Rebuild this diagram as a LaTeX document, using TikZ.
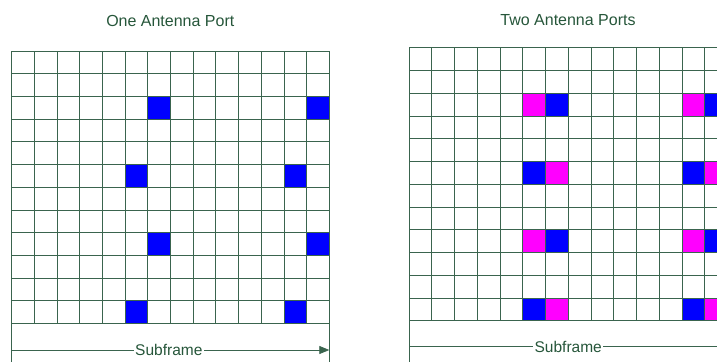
\documentclass[tikz,border=0pt]{standalone}
\usepackage{fontspec}
\setmainfont{Liberation Sans}
\usepackage{xcolor}
\usetikzlibrary{arrows.meta,positioning}
\definecolor{gridgreen}{RGB}{58,100,78}
\definecolor{txtgreen}{RGB}{38,86,58}
\definecolor{rsblue}{RGB}{0,0,255}
\definecolor{rspink}{RGB}{255,0,255}
\tikzset{
  ttl/.style    = {font=\fontsize{16}{18}\selectfont, text=txtgreen, inner sep=1pt},
  lbl/.style    = {font=\fontsize{15.5}{18}\selectfont, text=txtgreen, fill=white, inner sep=1.5pt},
  gridln/.style = {draw=gridgreen, line width=0.8pt},
  wire/.style   = {draw=gridgreen, line width=0.8pt, -{Triangle[length=10pt,width=8pt]}},
  rsA/.style    = {fill=rsblue},
  rsB/.style    = {fill=rspink}
}

\begin{document}
\begin{tikzpicture}[x=1pt,y=-1pt]
\useasboundingbox (0,0) rectangle (717,362);
\clip (0,0) rectangle (717,362);

% --- titles ---
\node[ttl] (ttlA) at (170.3,20.5) {One Antenna Port};
\node[ttl] (ttlB) at (568,20.5) {Two Antenna Ports};

% --- one antenna port: reference cells ---
\foreach \r/\c in {2/6, 2/13, 5/5, 5/12, 8/6, 8/13, 11/5, 11/12} {
  \fill[rsA] (11.5+\c*22.7,51+\r*22.7) rectangle ++(22.7,22.7);
}

% --- one antenna port: grid ---
\foreach \i in {0,...,14} {
  \draw[gridln] (11.5+\i*22.7,51) -- (11.5+\i*22.7,323.4);
}
\foreach \j in {0,...,12} {
  \draw[gridln] (11.5,51+\j*22.7) -- (329.3,51+\j*22.7);
}
\draw[gridln] (11.5,323.4) -- (11.5,362);
\draw[gridln] (329.3,323.4) -- (329.3,362);

% subframe arrow
\coordinate (sfA0) at (11.5,350);
\coordinate (sfA1) at (329.3,350);
\draw[wire] (sfA0) -- (sfA1) node[lbl, pos=0.495] (sfA) {Subframe};

% --- two antenna ports: reference cells ---
\foreach \r/\c in {2/6, 2/13, 5/5, 5/12, 8/6, 8/13, 11/5, 11/12} {
  \fill[rsA] (409+\c*22.75,47.7+\r*22.75) rectangle ++(22.75,22.75);
}
\foreach \r/\c in {2/5, 2/12, 5/6, 5/13, 8/5, 8/12, 11/6, 11/13} {
  \fill[rsB] (409+\c*22.75,47.7+\r*22.75) rectangle ++(22.75,22.75);
}

% --- two antenna ports: grid ---
\foreach \i in {0,...,14} {
  \draw[gridln] (409+\i*22.75,47.7) -- (409+\i*22.75,320.7);
}
\foreach \j in {0,...,12} {
  \draw[gridln] (409,47.7+\j*22.75) -- (727.5,47.7+\j*22.75);
}
\draw[gridln] (409,320.7) -- (409,362);

% subframe arrow
\coordinate (sfB0) at (409,346.7);
\coordinate (sfB1) at (727.5,346.7);
\draw[wire] (sfB0) -- (sfB1) node[lbl, midway] (sfB) {Subframe};

\end{tikzpicture}
\end{document}
